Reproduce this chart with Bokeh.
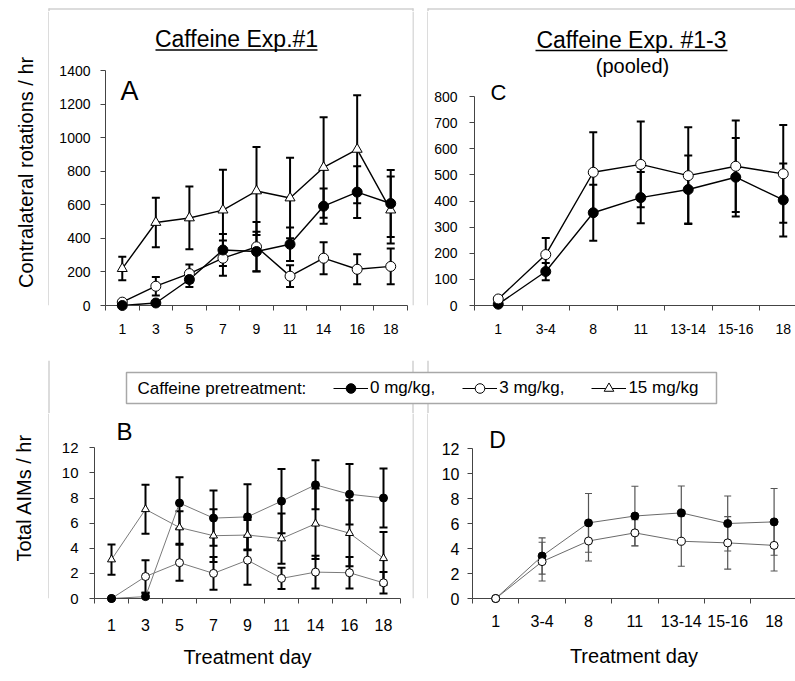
import math
from bokeh.plotting import figure
from bokeh.layouts import column, row
from bokeh.models import (Range1d, FixedTicker, Whisker, TeeHead, ColumnDataSource,
                          Label, Legend, LegendItem, CustomJSTickFormatter)
from bokeh.embed import file_html
from bokeh.resources import INLINE

FONT = "Liberation Sans"

# ---------------- data ----------------
A_DAYS = ["1", "3", "5", "7", "9", "11", "14", "16", "18"]
A_ROT_0MG = [0, 15, 155, 331, 322, 365, 592, 676, 608]
A_ROT_0MG_SEM = [0, 8, 45, 95, 118, 100, 105, 155, 200]
A_ROT_3MG = [20, 115, 190, 282, 350, 175, 282, 216, 233]
A_ROT_3MG_SEM = [0, 55, 55, 105, 148, 65, 95, 90, 107]
A_ROT_15MG = [220, 495, 522, 569, 683, 641, 823, 931, 569]
A_ROT_15MG_SEM = [70, 147, 187, 240, 262, 240, 300, 322, 200]
A_YTICKS = [0, 200, 400, 600, 800, 1000, 1200, 1400]

B_DAYS = ["1", "3", "5", "7", "9", "11", "14", "16", "18"]
B_AIM_0MG = [0, 0.15, 7.6, 6.4, 6.5, 7.75, 9.05, 8.3, 8.0]
B_AIM_0MG_SEM = [0, 0.3, 2.05, 2.2, 2.6, 2.55, 1.95, 2.4, 2.35]
B_AIM_3MG = [0, 1.75, 2.85, 2.0, 3.05, 1.6, 2.1, 2.05, 1.25]
B_AIM_3MG_SEM = [0, 1.3, 1.43, 1.3, 1.95, 0.85, 1.3, 1.25, 0.85]
B_AIM_15MG = [3.1, 7.1, 5.65, 5.0, 5.05, 4.77, 5.95, 5.2, 3.2]
B_AIM_15MG_SEM = [1.2, 1.95, 1.3, 2.1, 1.2, 2.0, 2.8, 2.63, 2.1]
B_YTICKS = [0, 2, 4, 6, 8, 10, 12]

C_DAYS = ["1", "3-4", "8", "11", "13-14", "15-16", "18"]
C_ROT_0MG = [5, 130, 355, 413, 444, 491, 404]
C_ROT_0MG_SEM = [0, 33, 107, 98, 130, 150, 140]
C_ROT_3MG = [25, 195, 510, 540, 497, 533, 504]
C_ROT_3MG_SEM = [0, 63, 153, 164, 185, 175, 187]
C_YTICKS = [0, 100, 200, 300, 400, 500, 600, 700, 800]

D_DAYS = ["1", "3-4", "8", "11", "13-14", "15-16", "18"]
D_AIM_0MG = [0, 3.4, 6.05, 6.6, 6.85, 6.0, 6.13]
D_AIM_0MG_SEM = [0, 1.45, 2.35, 2.38, 2.15, 2.2, 2.67]
D_AIM_3MG = [0, 2.95, 4.6, 5.25, 4.58, 4.45, 4.25]
D_AIM_3MG_SEM = [0, 1.55, 1.6, 1.05, 2.0, 2.1, 2.05]
D_YTICKS = [0, 2, 4, 6, 8, 10, 12]

LEGEND_TITLE = "Caffeine pretreatment:"
LEGEND_LABELS = ["0 mg/kg,", "3 mg/kg,", "15 mg/kg"]

# ---------------- styling helpers ----------------
BOX = "#d0d0d0"
AXIS = "#444444"


def decor(w, h):
    p = figure(width=w, height=h, x_range=Range1d(0, w), y_range=Range1d(0, h),
               x_axis_type=None, y_axis_type=None, output_backend="svg",
               toolbar_location=None, min_border=0, title=None)
    p.outline_line_color = None
    p.grid.visible = False
    return p


def vline(p, x, y0, y1, color=BOX, width=1.5):
    p.segment(x0=[x], y0=[y0], x1=[x], y1=[y1], line_color=color, line_width=width)


def hline(p, x0, x1, y, color=BOX, width=1.5):
    p.segment(x0=[x0], y0=[y], x1=[x1], y1=[y], line_color=color, line_width=width)


class Panel:
    """A plot whose frame is placed at given page pixel positions."""

    def __init__(self, ox, oy, cw, ch, fx0, fx1, fy_top, axis0, ppx, ppy):
        self.fx0, self.axis0, self.ppx, self.ppy = fx0, axis0, ppx, ppy
        self.p = figure(width=cw, height=ch,
                        x_range=Range1d(0, (fx1 - fx0) / ppx),
                        y_range=Range1d(0, (axis0 - fy_top) / ppy),
                        min_border_left=fx0 - ox, min_border_right=ox + cw - fx1,
                        min_border_top=fy_top - oy, min_border_bottom=oy + ch - axis0,
                        output_backend="svg", toolbar_location=None, title=None)
        self.p.grid.visible = False
        self.p.outline_line_color = None

    def X(self, px):
        return (px - self.fx0) / self.ppx

    def Y(self, py):
        return (self.axis0 - py) / self.ppy

    def text(self, px, py, txt, size):
        self.p.add_layout(Label(x=self.X(px), y=self.Y(py), text=txt, text_font=FONT,
                                text_font_size=size, text_align="center",
                                text_baseline="middle", text_color="black"))


def style_axes(p, cats, yticks, xfs, yfs, xstand, ystand):
    n = len(cats)
    xa = p.xaxis[0]
    xa.ticker = FixedTicker(ticks=[i + 0.5 for i in range(n)], minor_ticks=list(range(n + 1)))
    xa.formatter = CustomJSTickFormatter(
        args=dict(labels=cats),
        code="const i = Math.floor(tick); return (i >= 0 && i < labels.length) ? labels[i] : '';")
    xa.major_tick_line_color = None
    xa.major_tick_out = 5
    xa.major_tick_in = 0
    xa.minor_tick_out = 5
    xa.minor_tick_in = 0
    xa.minor_tick_line_color = AXIS
    xa.axis_line_color = AXIS
    xa.major_label_text_font = FONT
    xa.major_label_text_font_size = xfs
    xa.major_label_text_color = "black"
    xa.major_label_standoff = xstand
    ya = p.yaxis[0]
    ya.ticker = FixedTicker(ticks=yticks)
    ya.bounds = (yticks[0], yticks[-1])
    ya.major_tick_out = 5
    ya.major_tick_in = 0
    ya.major_tick_line_color = AXIS
    ya.minor_tick_line_color = None
    ya.axis_line_color = AXIS
    ya.major_label_text_font = FONT
    ya.major_label_text_font_size = yfs
    ya.major_label_text_color = "black"
    ya.major_label_standoff = ystand


def axis_title(p, text, standoff):
    xa = p.xaxis[0]
    xa.axis_label = text
    xa.axis_label_text_font = FONT
    xa.axis_label_text_font_size = "20px"
    xa.axis_label_text_font_style = "normal"
    xa.axis_label_text_color = "black"
    xa.axis_label_standoff = standoff


def add_series(p, n, vals, errs, marker, fill, size, lcolor, lwidth, ecolor, ewidth, cap):
    xs = [i + 0.5 for i in range(n)]
    src = ColumnDataSource(dict(x=xs, y=vals,
                                upper=[v + e for v, e in zip(vals, errs)],
                                lower=[v - e for v, e in zip(vals, errs)]))
    p.add_layout(Whisker(base="x", upper="upper", lower="lower", source=src,
                         dimension="height", line_color=ecolor, line_width=ewidth,
                         upper_head=TeeHead(size=cap, line_color=ecolor, line_width=ewidth),
                         lower_head=TeeHead(size=cap, line_color=ecolor, line_width=ewidth)))
    p.line("x", "y", source=src, line_color=lcolor, line_width=lwidth)
    return dict(src=src, marker=marker, fill=fill, size=size)


def add_markers(p, s):
    p.scatter("x", "y", source=s["src"], marker=s["marker"], size=s["size"],
              fill_color=s["fill"], line_color="black", line_width=1, level="overlay")


def side_title(p, h, x, page_top, page_y, text):
    # rotated axis title drawn in the narrow left strip
    p.add_layout(Label(x=x, y=h - (page_y - page_top), text=text,
                       text_font=FONT, text_font_size="20px", text_align="center",
                       text_baseline="middle", angle=math.pi / 2, text_color="black"))


# ---------------- page layout (page px, origin at top-left) ----------------
# rows: strip 0-11, top row 11-360, legend 360-413, bottom row 413-681

strip = decor(795, 11)
hline(strip, 48, 413, 3.5)
hline(strip, 427, 795, 3.5)
for xx in (48.5, 412.5, 427.5):
    vline(strip, xx, 0, 4)

# ---- row 1 ----
ld1 = decor(49, 349)
vline(ld1, 48.5, 0, 349)
side_title(ld1, 349, 25, 11, 202, "Contralateral rotations / hr")

A = Panel(49, 11, 363, 349, 105, 407, 11, 309, 302 / 9, 238 / 1400)
style_axes(A.p, A_DAYS, A_YTICKS, "14px", "14px", 13, 10)
nA = len(A_DAYS)
sA0 = add_series(A.p, nA, A_ROT_0MG, A_ROT_0MG_SEM, "circle", "black", 10, "black", 1.4, "black", 2, 8)
sA3 = add_series(A.p, nA, A_ROT_3MG, A_ROT_3MG_SEM, "circle", "white", 10, "black", 1.4, "black", 2, 8)
sA15 = add_series(A.p, nA, A_ROT_15MG, A_ROT_15MG_SEM, "triangle", "white", 10, "black", 1.4, "black", 2, 8)
for s in (sA15, sA3, sA0):
    add_markers(A.p, s)
A.text(236, 39, "Caffeine Exp.#1", "23px")
A.p.segment(x0=[A.X(155)], y0=[A.Y(50)], x1=[A.X(317)], y1=[A.Y(50)], line_color="black", line_width=1.3)
A.text(129, 92, "A", "27px")

gap1 = decor(16, 349)
vline(gap1, 0.5, 0, 349)
vline(gap1, 15.5, 0, 349)

C = Panel(428, 11, 367, 349, 474, 795, 11, 305, 47.5, 209 / 800)
style_axes(C.p, C_DAYS, C_YTICKS, "14px", "14px", 13, 12)
nC = len(C_DAYS)
sC0 = add_series(C.p, nC, C_ROT_0MG, C_ROT_0MG_SEM, "circle", "black", 10, "black", 1.4, "black", 2, 8)
sC3 = add_series(C.p, nC, C_ROT_3MG, C_ROT_3MG_SEM, "circle", "white", 10, "black", 1.4, "black", 2, 8)
for s in (sC0, sC3):
    add_markers(C.p, s)
C.text(631, 39, "Caffeine Exp. #1-3", "23px")
C.p.segment(x0=[C.X(535)], y0=[C.Y(50)], x1=[C.X(727)], y1=[C.Y(50)], line_color="black", line_width=1.3)
C.text(632, 65, "(pooled)", "20px")
C.text(498, 92, "C", "22px")

# ---- legend row ----
lg = decor(795, 53)
vline(lg, 48.5, 0, 53)
vline(lg, 412.5, 0, 53)
vline(lg, 427.5, 0, 53)
lg.quad(left=[126], right=[716], top=[41], bottom=[10], fill_color="white",
        line_color="#a8a8a8", line_width=1.5)
lg.add_layout(Label(x=137, y=25, text=LEGEND_TITLE, text_font=FONT, text_font_size="17px",
                    text_align="left", text_baseline="middle", text_color="black"))
leg_specs = [("circle", "black"), ("circle", "white"), ("triangle", "white")]
items = []
for lab, (mk, fc) in zip(LEGEND_LABELS, leg_specs):
    # swatch renderers: their single point lies outside the visible range
    rl = lg.line(x=[-1000, -990], y=[-1000, -1000], line_color="black", line_width=1)
    rm = lg.scatter(x=[-1000], y=[-1000], marker=mk, size=10, fill_color=fc,
                    line_color="black", line_width=1)
    items.append(LegendItem(label=lab, renderers=[rl, rm]))
legend = Legend(items=items, orientation="horizontal", location=(333, 13),
                glyph_width=35, glyph_height=24, label_height=20, label_standoff=2,
                spacing=27, padding=0, margin=0, border_line_color=None,
                background_fill_alpha=0, label_text_font=FONT, label_text_font_size="17px",
                label_text_color="black")
lg.add_layout(legend)

# ---- row 3 ----
ld3 = decor(49, 268)
vline(ld3, 48.5, 0, 268)
side_title(ld3, 268, 23, 413, 535, "Total AIMs / hr")

B = Panel(49, 413, 363, 268, 94, 400, 413, 602, 306 / 9, 154 / 12)
style_axes(B.p, B_DAYS, B_YTICKS, "16px", "15px", 15, 11)
axis_title(B.p, "Treatment day", 12)
nB = len(B_DAYS)
sB0 = add_series(B.p, nB, B_AIM_0MG, B_AIM_0MG_SEM, "circle", "black", 8, "#7a7a7a", 1, "black", 2, 8)
sB3 = add_series(B.p, nB, B_AIM_3MG, B_AIM_3MG_SEM, "circle", "white", 8, "#7a7a7a", 1, "black", 2, 8)
sB15 = add_series(B.p, nB, B_AIM_15MG, B_AIM_15MG_SEM, "triangle", "white", 8, "#7a7a7a", 1, "black", 2, 8)
for s in (sB15, sB3, sB0):
    add_markers(B.p, s)
B.text(124, 431, "B", "24px")

gap3 = decor(16, 268)
vline(gap3, 0.5, 0, 268)
vline(gap3, 15.5, 0, 268)

D = Panel(428, 413, 367, 268, 472, 795, 413, 598, 46.4, 150 / 12)
style_axes(D.p, D_DAYS, D_YTICKS, "16px", "16px", 11, 8)
axis_title(D.p, "Treatment day", 15)
nD = len(D_DAYS)
sD0 = add_series(D.p, nD, D_AIM_0MG, D_AIM_0MG_SEM, "circle", "black", 8, "#6a6a6a", 1, "#555555", 1.2, 7)
sD3 = add_series(D.p, nD, D_AIM_3MG, D_AIM_3MG_SEM, "circle", "white", 8, "#6a6a6a", 1, "#555555", 1.2, 7)
for s in (sD0, sD3):
    add_markers(D.p, s)
D.text(497, 439, "D", "23px")

page = column(strip, row(ld1, A.p, gap1, C.p), lg, row(ld3, B.p, gap3, D.p))

with open("out.html", "w") as f:
    f.write(file_html(page, INLINE))
